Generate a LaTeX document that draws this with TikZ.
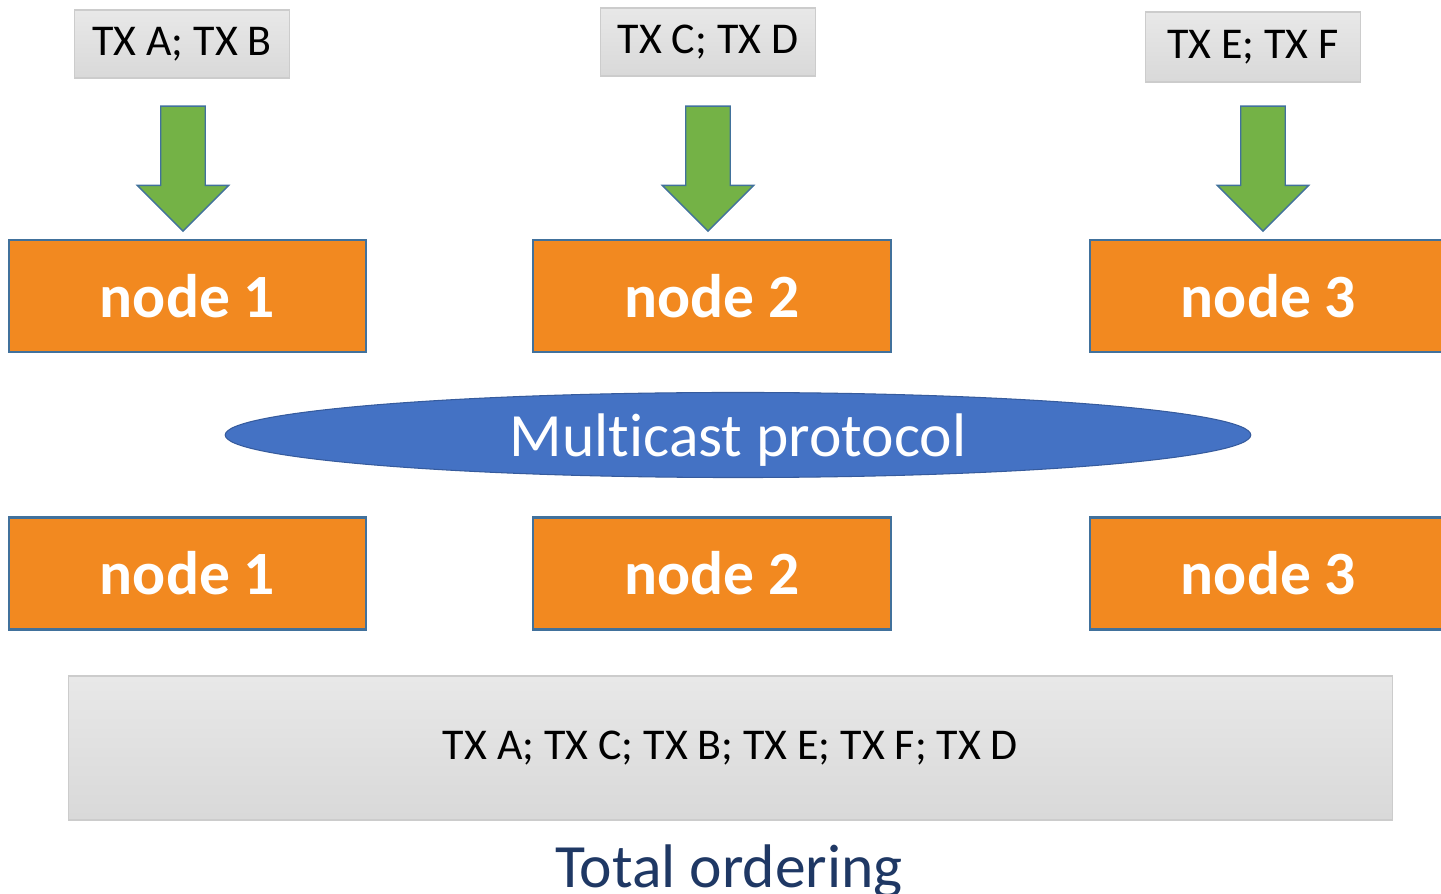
\documentclass[tikz,border=0pt]{standalone}
\usepackage{fontspec}
\setmainfont{Carlito}[Ligatures=NoCommon]
\usepackage{xcolor}
\usepackage{tikz}
\usetikzlibrary{shapes.geometric,shapes.arrows}

\definecolor{nodeorange}{RGB}{242,137,32}
\definecolor{edgeblue}{RGB}{65,113,156}
\definecolor{protoblue}{RGB}{68,114,196}
\definecolor{arrowgreen}{RGB}{116,178,70}
\definecolor{titleblue}{RGB}{31,56,100}

\begin{document}
\begin{tikzpicture}[x=0.01cm,y=-0.01cm,
	txbox/.style={draw=gray!40,top color=gray!18,bottom color=gray!30,minimum width=2.15cm,minimum height=0.68cm,inner sep=0pt,font=\fontsize{12.5}{14}\selectfont},
	peer/.style={draw=edgeblue,line width=0.6pt,fill=nodeorange,text=white,minimum width=3.57cm,minimum height=1.12cm,inner sep=0pt,font=\fontsize{17.5}{20}\selectfont\bfseries},
	feed/.style={single arrow,draw=edgeblue,line width=0.4pt,fill=arrowgreen,rotate=-90,minimum height=1.25cm,inner xsep=0pt,inner ysep=0.215cm,single arrow head extend=0.235cm}]
	\useasboundingbox (0,0) rectangle (1441,894);

	% incoming transactions
	\node[txbox] (txab) at (182,44) {TX A; TX B};
	\node[txbox] (txcd) at (708,42) {TX C; TX D};
	\node[txbox,minimum height=0.70cm] (txef) at (1253,47) {TX E; TX F};

	\node[feed] (feed1) at (183,157.5) {};
	\node[feed] (feed2) at (708,157.5) {};
	\node[feed] (feed3) at (1263,157.5) {};

	% nodes before multicast
	\node[peer] (top1) at (187.5,296) {node 1};
	\node[peer] (top2) at (712,296) {node 2};
	\node[peer] (top3) at (1268.5,296) {node 3};

	\node[ellipse,fill=protoblue,draw=protoblue!80!black,line width=0.3pt,text=white,minimum width=10.25cm,minimum height=0.85cm,inner sep=0pt,text depth=0pt,font=\fontsize{17.5}{20}\selectfont] (proto) at (738,435) {Multicast protocol};

	% nodes after multicast
	\node[peer] (bot1) at (187.5,573.5) {node 1};
	\node[peer] (bot2) at (712,573.5) {node 2};
	\node[peer] (bot3) at (1268.5,573.5) {node 3};

	\node[txbox,minimum width=13.23cm,minimum height=1.44cm] (order) at (730.5,748) {TX A; TX C; TX B; TX E; TX F; TX D};
	\node[anchor=base,text=titleblue,inner sep=0pt,font=\fontsize{17.5}{20}\selectfont] (total) at (729,887) {Total ordering};
\end{tikzpicture}
\end{document}
